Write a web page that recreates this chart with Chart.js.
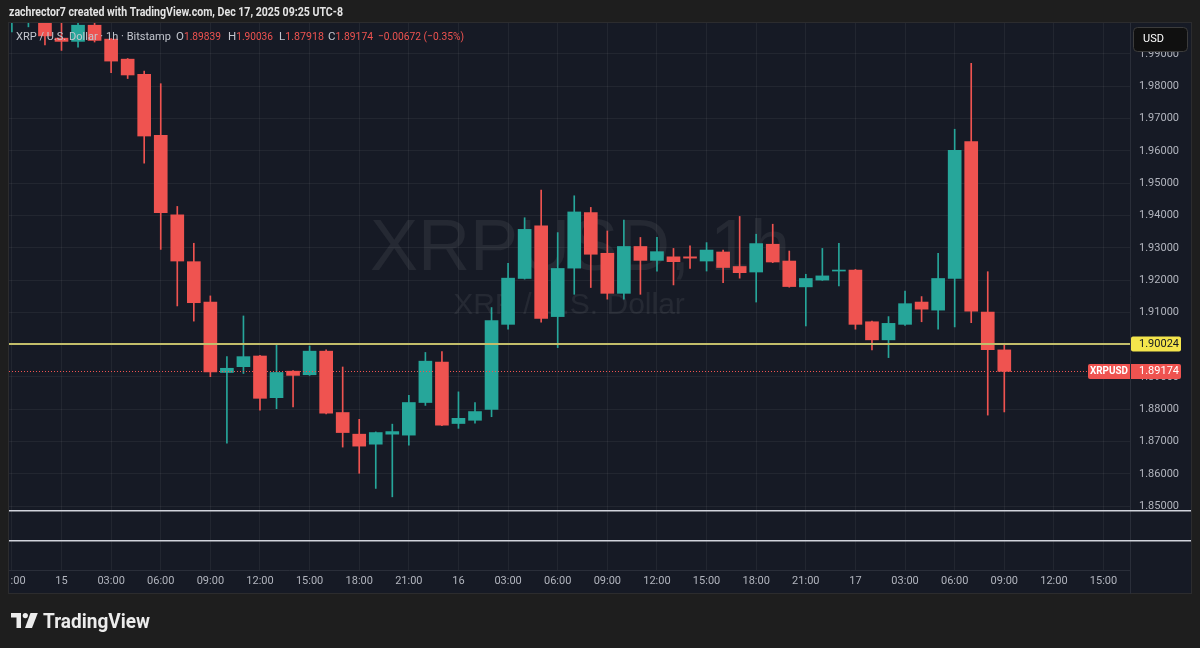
<!DOCTYPE html>
<html>
<head>
<meta charset="utf-8">
<script src="https://cdn.jsdelivr.net/npm/chart.js@4.4.1/dist/chart.umd.min.js"></script>
<style>
  html, body { margin: 0; padding: 0; background: #1e1e1e; }
  canvas { display: block; }
</style>
</head>
<body>
<canvas id="chart" width="1200" height="648"></canvas>
<script>
// hours counted from Dec 15 00:00, first candle is 21:00 on Dec 14
const firstHour = -3;
const opens = [2.0010, 2.0005, 2.0002, 1.9949, 1.9939, 1.9989, 1.9946, 1.9884, 1.9837, 1.9648,
               1.9402, 1.9257, 1.9132, 1.8914, 1.8932, 1.8965, 1.8836, 1.8918, 1.8907, 1.8980,
               1.8790, 1.8723, 1.8692, 1.8723, 1.8720, 1.8821, 1.8946, 1.8756, 1.8766, 1.8800,
               1.9063, 1.9205, 1.9368, 1.9087, 1.9237, 1.9409, 1.9283, 1.9159, 1.9304, 1.9261,
               1.9272, 1.9272, 1.9259, 1.9287, 1.9242, 1.9225, 1.9311, 1.9259, 1.9179, 1.9200,
               1.9228, 1.9231, 1.9071, 1.9015, 1.9063, 1.9132, 1.9107, 1.9205, 1.9629, 1.9101,
               1.89839];
const highs = [2.0040, 2.0035, 2.0030, 1.9998, 1.9995, 1.9995, 1.9948, 1.9886, 1.9847, 1.9808,
               1.9428, 1.9314, 1.9151, 1.8963, 1.9089, 1.8967, 1.9001, 1.8920, 1.8996, 1.8984,
               1.8931, 1.8769, 1.8730, 1.8754, 1.8843, 1.8976, 1.8979, 1.8854, 1.8821, 1.9115,
               1.9252, 1.9393, 1.9479, 1.9347, 1.9461, 1.9425, 1.9352, 1.9386, 1.9332, 1.9332,
               1.9298, 1.9306, 1.9316, 1.9293, 1.9397, 1.9342, 1.9373, 1.9290, 1.9218, 1.9298,
               1.9314, 1.9233, 1.9073, 1.9087, 1.9166, 1.9149, 1.9283, 1.9667, 1.9871, 1.9226,
               1.90036];
const lows = [1.9968, 1.9984, 1.9928, 1.9911, 1.9921, 1.9937, 1.9842, 1.9824, 1.9562, 1.9295,
              1.9120, 1.9073, 1.8901, 1.8695, 1.8911, 1.8797, 1.8802, 1.8807, 1.8905, 1.8786,
              1.8683, 1.8602, 1.8555, 1.8529, 1.8689, 1.8812, 1.8749, 1.8741, 1.8757, 1.8777,
              1.9048, 1.9203, 1.9070, 1.8991, 1.9156, 1.9177, 1.9141, 1.9141, 1.9156, 1.9228,
              1.9185, 1.9236, 1.9228, 1.9192, 1.9206, 1.9132, 1.9254, 1.9178, 1.9058, 1.9199,
              1.9182, 1.9048, 1.8984, 1.8960, 1.9060, 1.9071, 1.9048, 1.9055, 1.9068, 1.8782,
              1.87918];
const closes = [2.0030, 2.0025, 1.9956, 1.9939, 1.9989, 1.9942, 1.9878, 1.9835, 1.9646, 1.9409,
                1.9259, 1.9130, 1.8916, 1.8927, 1.8963, 1.8834, 1.8914, 1.8905, 1.8980, 1.8788,
                1.8728, 1.8686, 1.8728, 1.8731, 1.8821, 1.8949, 1.8751, 1.8772, 1.8793, 1.9075,
                1.9206, 1.9357, 1.9081, 1.9236, 1.9411, 1.9280, 1.9159, 1.9304, 1.9261, 1.9288,
                1.9257, 1.9268, 1.9293, 1.9239, 1.9223, 1.9313, 1.9256, 1.9180, 1.9205, 1.9213,
                1.9231, 1.9063, 1.9015, 1.9066, 1.9127, 1.9110, 1.9205, 1.9602, 1.9104, 1.89846,
                1.89174];

const timeTicks = [-3, 0, 3, 6, 9, 12, 15, 18, 21, 24, 27, 30, 33, 36, 39, 42, 45, 48, 51, 54, 57, 60, 63];
const timeLabels = ['21:00', '15', '03:00', '06:00', '09:00', '12:00', '15:00', '18:00', '21:00',
                    '16', '03:00', '06:00', '09:00', '12:00', '15:00', '18:00', '21:00',
                    '17', '03:00', '06:00', '09:00', '12:00', '15:00'];
const priceTicks = [1.85, 1.86, 1.87, 1.88, 1.89, 1.90, 1.91, 1.92, 1.93, 1.94, 1.95, 1.96, 1.97, 1.98, 1.99];

// horizontal lines drawn on the chart
const drawnLevels = [1.8486, 1.8393];
const alertLevel = 1.90024;

const up = '#26a69a';
const down = '#ef5350';
const hours = opens.map((o, i) => firstHour + i);
const candleColors = closes.map((c, i) => c >= opens[i] ? up : down);
const last = closes.length - 1;

const FONT = 'Roboto, "Liberation Sans", sans-serif';

function fmt(v) {
    return (v < 0 ? '\u2212' : '') + Math.abs(v).toFixed(5);
}

function box(c, x, y, w, h, r, fill) {
    c.fillStyle = fill;
    c.beginPath();
    c.roundRect(x, y, w, h, r);
    c.fill();
}

const tvDecor = {
    id: 'tvDecor',
    beforeDraw(chart) {
        const c = chart.ctx;
        c.save();
        c.fillStyle = '#1e1e1e';
        c.fillRect(0, 0, chart.width, chart.height);
        c.fillStyle = '#161a25';
        c.fillRect(8, 22, 1184, 572);

        c.fillStyle = '#e4e4e4';
        c.font = 'bold 12px ' + FONT;
        c.textBaseline = 'middle';
        c.fillText('zachrector7 created with TradingView.com, Dec 17, 2025 09:25 UTC-8', 9, 13, 334);

        // TradingView logo
        c.fillStyle = '#ececec';
        c.beginPath();
        c.moveTo(11, 613); c.lineTo(21, 613); c.lineTo(21, 628); c.lineTo(16.5, 628); c.lineTo(16.5, 617.5); c.lineTo(11, 617.5);
        c.closePath();
        c.fill();
        c.beginPath();
        c.arc(25.3, 615.6, 2.6, 0, Math.PI * 2);
        c.fill();
        c.beginPath();
        c.moveTo(30.5, 613); c.lineTo(37.8, 613); c.lineTo(32, 628); c.lineTo(25, 628);
        c.closePath();
        c.fill();
        c.font = 'bold 20px ' + FONT;
        c.textBaseline = 'alphabetic';
        c.fillText('TradingView', 43, 628, 107);
        c.restore();
    },
    beforeDatasetsDraw(chart) {
        const c = chart.ctx;
        c.save();
        c.fillStyle = 'rgba(255,255,255,0.065)';
        c.textAlign = 'center';
        c.textBaseline = 'alphabetic';
        c.font = '72px "Liberation Sans", Arial, sans-serif';
        c.fillText('XRPUSD, 1h', 580, 270);
        c.font = '30px "Liberation Sans", Arial, sans-serif';
        c.fillText('XRP / U.S. Dollar', 569, 314);
        c.restore();
    },
    afterDatasetsDraw(chart) {
        const c = chart.ctx;
        const y = chart.scales.y;
        const area = chart.chartArea;
        c.save();
        c.strokeStyle = '#d1d4dc';
        c.lineWidth = 1.5;
        drawnLevels.forEach(v => {
            const py = y.getPixelForValue(v);
            c.beginPath();
            c.moveTo(area.left, py);
            c.lineTo(1191, py);
            c.stroke();
        });
        const ay = y.getPixelForValue(alertLevel);
        c.strokeStyle = '#c2bd6a';
        c.lineWidth = 2;
        c.beginPath();
        c.moveTo(area.left, ay);
        c.lineTo(area.right, ay);
        c.stroke();
        const ly = Math.round(y.getPixelForValue(closes[last])) + 0.5;
        c.strokeStyle = down;
        c.lineWidth = 1;
        c.setLineDash([1, 2]);
        c.beginPath();
        c.moveTo(area.left, ly);
        c.lineTo(1088, ly);
        c.stroke();
        c.restore();
    },
    afterDraw(chart) {
        const c = chart.ctx;
        const y = chart.scales.y;
        c.save();
        // clip the first time label at the pane edge
        c.fillStyle = '#1e1e1e';
        c.fillRect(0, 22, 8, 573);
        c.strokeStyle = '#2c2c2e';
        c.lineWidth = 1;
        c.strokeRect(8.5, 22.5, 1183, 571);
        c.strokeStyle = '#2a2e39';
        c.beginPath();
        c.moveTo(1130.5, 570);
        c.lineTo(1130.5, 594);
        c.stroke();

        // legend
        c.font = '11.5px ' + FONT;
        c.textBaseline = 'middle';
        c.fillStyle = '#c3c6ce';
        c.fillText('XRP / U.S. Dollar \u00b7 1h \u00b7 Bitstamp', 16, 37, 155);
        const parts = [['O', opens[last], 176], ['H', highs[last], 228], ['L', lows[last], 279], ['C', closes[last], 328]];
        parts.forEach(([k, v, x]) => {
            c.fillStyle = '#c3c6ce';
            c.fillText(k, x, 37);
            const kw = c.measureText(k).width;
            c.fillStyle = down;
            c.fillText(v.toFixed(5), x + kw, 37, 45 - kw);
        });
        const chg = closes[last] - closes[last - 1];
        const pct = chg / closes[last - 1] * 100;
        c.fillStyle = down;
        c.fillText(fmt(chg) + ' (' + (pct < 0 ? '\u2212' : '') + Math.abs(pct).toFixed(2) + '%)', 378, 37, 86);

        // price axis labels
        c.font = '11px ' + FONT;
        const ay = y.getPixelForValue(alertLevel);
        box(c, 1131, ay - 7.5, 50, 15, 2, '#f4e54c');
        c.fillStyle = '#131722';
        c.fillText(alertLevel.toFixed(5), 1139, ay);

        const ly = y.getPixelForValue(closes[last]);
        box(c, 1088, ly - 7.5, 42, 15, [2, 0, 0, 2], down);
        box(c, 1131, ly - 7.5, 50, 15, [0, 2, 2, 0], down);
        c.fillStyle = '#ffffff';
        c.textAlign = 'center';
        c.font = 'bold 11px ' + FONT;
        c.fillText('XRPUSD', 1109, ly, 38);
        c.textAlign = 'left';
        c.font = '11px ' + FONT;
        c.fillText(closes[last].toFixed(5), 1139, ly);

        // currency button
        box(c, 1133.5, 27.5, 54, 24, 4, '#101010');
        c.strokeStyle = '#3c3c3c';
        c.beginPath();
        c.roundRect(1133.5, 27.5, 54, 24, 4);
        c.stroke();
        c.fillStyle = '#ffffff';
        c.fillText('USD', 1143, 39.5);
        c.restore();
    }
};

new Chart(document.getElementById('chart'), {
    type: 'bar',
    data: {
        datasets: [
            {
                label: 'wick',
                data: hours.map((h, i) => ({ x: h, y: [lows[i], highs[i]] })),
                backgroundColor: candleColors,
                barThickness: 1,
                grouped: false,
                clip: 0,
                order: 2
            },
            {
                label: 'body',
                data: hours.map((h, i) => ({ x: h, y: [opens[i], closes[i]] })),
                backgroundColor: candleColors,
                barThickness: 13,
                minBarLength: 1,
                grouped: false,
                clip: 0,
                order: 1
            }
        ]
    },
    options: {
        responsive: false,
        animation: false,
        devicePixelRatio: 1,
        layout: { autoPadding: false, padding: { left: 9, top: 22, right: 8, bottom: 55 } },
        plugins: { legend: { display: false }, tooltip: { enabled: false } },
        scales: {
            x: {
                type: 'linear',
                offset: false,
                min: -3.174,
                max: 64.6,
                grid: { color: 'rgba(255,255,255,0.055)', drawTicks: false, offset: false },
                border: { display: true, color: '#2a2e39' },
                ticks: {
                    color: '#b2b5be',
                    font: { family: FONT, size: 11 },
                    padding: 5,
                    maxRotation: 0,
                    autoSkip: false,
                    callback: v => timeLabels[timeTicks.indexOf(v)]
                },
                afterBuildTicks: s => { s.ticks = timeTicks.map(v => ({ value: v })); },
                afterFit: s => { s.height = 23; s.paddingLeft = 0; s.paddingRight = 0; }
            },
            y: {
                position: 'right',
                min: 1.83025,
                max: 1.9999,
                grid: { color: 'rgba(255,255,255,0.055)', drawTicks: false },
                border: { display: true, color: '#2a2e39' },
                ticks: {
                    color: '#b2b5be',
                    font: { family: FONT, size: 11 },
                    padding: 9,
                    callback: v => v.toFixed(5)
                },
                afterBuildTicks: s => { s.ticks = priceTicks.map(v => ({ value: v })); },
                afterFit: s => { s.width = 62; s.paddingTop = 0; s.paddingBottom = 0; }
            }
        }
    },
    plugins: [tvDecor]
});
</script>
</body>
</html>
